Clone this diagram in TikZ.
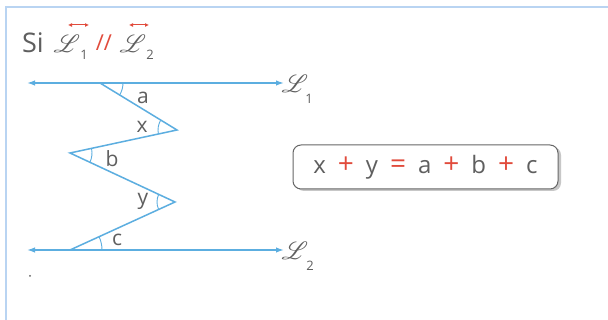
\documentclass[tikz,border=0pt]{standalone}
\usepackage{fontspec}
\setmainfont{Open Sans}
\usepackage{mathrsfs}
\usetikzlibrary{angles,arrows.meta}
\definecolor{lineblue}{RGB}{92,174,224}
\definecolor{txtgray}{RGB}{95,95,95}
\definecolor{eqred}{RGB}{225,75,60}
\definecolor{framebl}{RGB}{185,212,242}
\newcommand{\gp}{\hspace{12pt}}
\newcommand{\rop}[1]{{\color{eqred}\fontsize{28}{28}\selectfont #1}}
\begin{document}
\begin{tikzpicture}[x=1pt,y=1pt,
  bl/.style={draw=lineblue, line width=1.5pt},
  dbl/.style={bl, {Latex[length=8pt,width=5.5pt]}-{Latex[length=8pt,width=5.5pt]}},
  ang/.style={draw=lineblue, line width=0.9pt, angle radius=#1pt},
  lab/.style={text=txtgray, font=\fontsize{21}{21}\selectfont, inner sep=0pt},
  scl/.style={text=txtgray, font=\fontsize{27}{27}\selectfont, inner sep=0pt},
  hscl/.style={text=txtgray, font=\fontsize{32}{32}\selectfont, inner sep=0pt},
  sub/.style={text=txtgray, font=\fontsize{13}{13}\selectfont, inner sep=0pt},
  eqbox/.style={draw=black!60, line width=1pt, rounded corners=8pt, fill=white,
    minimum width=265pt, minimum height=44pt, inner sep=0pt, text=txtgray,
    font=\fontsize{24}{24}\selectfont},
  redarr/.style={draw=eqred, line width=1pt, {Latex[length=4pt,width=4pt]}-{Latex[length=4pt,width=4pt]}}
]
\useasboundingbox (0,0) rectangle (608,320);
\fill[white] (0,0) rectangle (608,320);
\draw[framebl, line width=1.5pt] (6,0) -- (6,313) -- (608,313);

% heading
\node[text=txtgray, font=\fontsize{27}{27}\selectfont, inner sep=0pt] (si) at (33,277) {Si};
\node[hscl] (h1) at (67,276) {$\mathscr{L}$};
\node[sub] (h1s) at (84,265) {1};
\node[text=eqred, font=\fontsize{22}{22}\selectfont, inner sep=0pt] (par) at (104,277) {//};
\node[hscl] (h2) at (133,276) {$\mathscr{L}$};
\node[sub] (h2s) at (150,265) {2};
\draw[redarr] (68,295) -- (89,295);
\draw[redarr] (129,295) -- (149,295);

% lines
\coordinate (L1l) at (27,237);
\coordinate (L1r) at (284,237);
\coordinate (L2l) at (27,70);
\coordinate (L2r) at (284,70);
\coordinate (A) at (100,237);
\coordinate (X) at (177,190);
\coordinate (B) at (70,167);
\coordinate (Y) at (175,118);
\coordinate (C) at (70,70);

\draw[dbl] (L1l) -- (L1r);
\draw[dbl] (L2l) -- (L2r);
\draw[bl, line join=miter] (A) -- (X) -- (B) -- (Y) -- (C);

\pic[ang=23] {angle = X--A--L1r};
\pic[ang=19] {angle = A--X--B};
\pic[ang=22] {angle = Y--B--X};
\pic[ang=18] {angle = B--Y--C};
\pic[ang=32] {angle = L2r--C--Y};

\node[lab] (la) at (143,222) {a};
\node[lab] (lx) at (142,193) {x};
\node[lab] (lb) at (112,161) {b};
\node[lab] (ly) at (143,119) {y};
\node[lab] (lc) at (117,80) {c};

\node[scl] (n1) at (295,236) {$\mathscr{L}$};
\node[sub] (n1s) at (309,221) {1};
\node[scl] (n2) at (295,69) {$\mathscr{L}$};
\node[sub] (n2s) at (310,54) {2};

\fill[txtgray] (30,44) circle (1pt);

% equation
\fill[black!22, rounded corners=8pt] (296,129) rectangle (561,173);
\node[eqbox] (eq) at (425.5,153) {x\gp\rop{+}\gp y\gp\rop{=}\gp a\gp\rop{+}\gp b\gp\rop{+}\gp c};
\end{tikzpicture}
\end{document}
